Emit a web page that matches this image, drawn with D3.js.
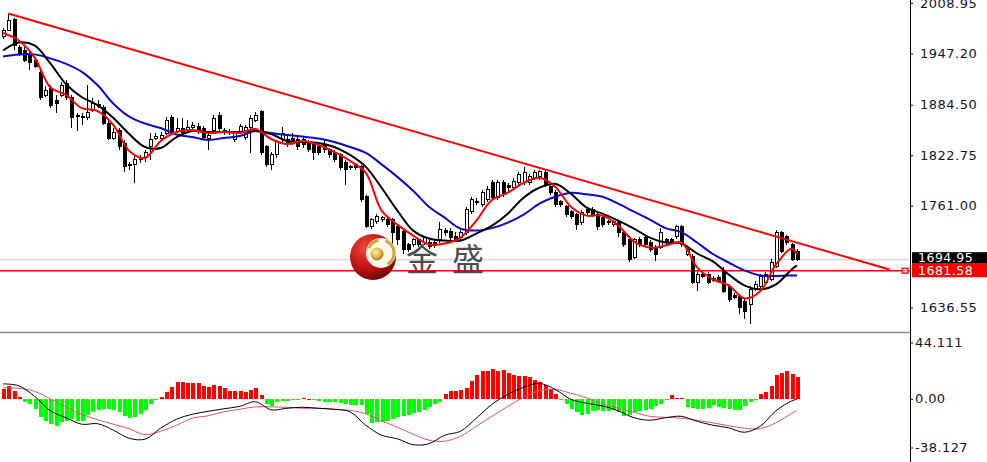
<!DOCTYPE html>
<html><head><meta charset="utf-8">
<script src="https://cdn.jsdelivr.net/npm/d3@7"></script>
<style>html,body{margin:0;padding:0;background:#fff;overflow:hidden}</style>
</head><body>
<svg id="chart" width="987" height="462"></svg>
<script>
// ---- data ----
const candleOpen = [1968.0,1975.3,1988.7,1954.6,1951.0,1944.9,1938.8,1924.2,1896.2,1904.7,
1890.1,1896.2,1910.8,1893.7,1871.8,1870.6,1869.4,1877.9,1885.2,1881.5,
1862.1,1843.8,1853.5,1837.7,1810.9,1810.9,1817.0,1819.5,1832.9,1843.8,
1843.8,1849.9,1869.4,1852.3,1856.0,1853.5,1857.2,1858.4,1856.0,1843.8,
1853.5,1871.8,1853.5,1852.3,1841.4,1851.1,1845.0,1857.2,1865.7,1876.7,
1832.9,1810.9,1823.1,1841.4,1841.4,1843.8,1841.4,1841.4,1837.7,1835.3,
1832.9,1835.3,1829.2,1825.6,1823.1,1813.4,1808.5,1810.9,1808.5,1772.0,
1735.5,1741.6,1744.0,1744.0,1744.0,1735.5,1729.4,1713.6,1713.6,1719.7,
1716.0,1716.0,1716.0,1719.7,1730.6,1729.4,1723.3,1722.1,1728.2,1753.7,
1764.7,1762.3,1768.3,1789.0,1770.8,1789.0,1785.4,1783.0,1789.0,1789.0,
1789.0,1795.1,1796.3,1801.2,1784.2,1776.9,1765.9,1759.8,1753.7,1750.1,
1740.3,1756.2,1756.2,1750.1,1746.4,1741.6,1737.9,1740.3,1728.2,1719.7,
1697.7,1719.7,1722.1,1716.0,1709.9,1709.9,1719.7,1719.7,1723.3,1735.5,
1701.4,1699.0,1667.3,1677.0,1677.0,1672.2,1673.4,1680.7,1662.4,1651.5,
1650.3,1644.2,1640.5,1658.8,1662.4,1667.3,1671.0,1686.8,1728.2,1723.3,
1713.6,1705.0];
const candleHigh = [1978.9,1996.0,1991.1,1957.0,1954.6,1948.5,1941.2,1926.6,1907.1,1908.3,
1896.2,1912.0,1914.4,1896.2,1874.3,1874.3,1908.3,1892.5,1890.1,1884.0,
1865.7,1856.0,1856.0,1841.4,1814.6,1823.1,1823.1,1829.2,1849.9,1849.9,
1851.1,1869.4,1871.8,1868.2,1868.2,1865.7,1863.3,1862.1,1858.4,1851.1,
1871.8,1875.5,1856.0,1854.8,1852.3,1860.9,1859.6,1871.8,1875.5,1877.9,
1835.3,1826.8,1841.4,1857.2,1847.5,1849.9,1846.2,1845.0,1841.4,1839.0,
1836.5,1841.4,1831.6,1829.2,1825.6,1817.0,1810.9,1813.4,1810.9,1774.4,
1746.4,1751.3,1748.9,1746.4,1746.4,1737.9,1731.8,1716.0,1722.1,1722.1,
1724.5,1719.7,1718.4,1741.6,1734.3,1734.3,1729.4,1731.8,1759.8,1772.0,
1770.8,1780.5,1785.4,1792.7,1792.7,1792.7,1789.0,1795.1,1802.4,1808.5,
1800.0,1804.9,1804.9,1804.9,1786.6,1780.5,1768.3,1762.3,1756.2,1752.5,
1756.2,1758.6,1759.8,1753.7,1750.1,1744.0,1744.0,1744.0,1731.8,1722.1,
1722.1,1723.3,1724.5,1719.7,1713.6,1734.3,1722.1,1722.1,1737.9,1737.9,
1711.1,1701.4,1680.7,1679.5,1679.5,1674.6,1675.8,1685.6,1664.9,1653.9,
1652.7,1646.6,1662.4,1668.5,1677.0,1679.5,1695.3,1731.8,1730.6,1725.7,
1716.0,1707.5];
const candleLow = [1965.5,1974.1,1951.0,1943.6,1936.3,1926.6,1929.0,1890.1,1893.7,1880.3,
1874.3,1893.7,1890.1,1856.0,1852.3,1859.6,1865.7,1875.5,1880.3,1859.6,
1841.4,1841.4,1829.2,1802.4,1804.9,1789.0,1813.4,1814.6,1817.0,1841.4,
1841.4,1847.5,1847.5,1849.9,1847.5,1849.9,1853.5,1848.7,1841.4,1829.2,
1851.1,1852.3,1847.5,1847.5,1839.0,1848.7,1841.4,1825.6,1863.3,1823.1,
1808.5,1804.9,1819.5,1837.7,1832.9,1835.3,1829.2,1831.6,1826.8,1817.0,
1823.1,1825.6,1819.5,1814.6,1804.9,1786.6,1804.9,1804.9,1765.9,1734.3,
1733.0,1739.1,1741.6,1735.5,1709.9,1713.6,1701.4,1705.0,1711.1,1711.1,
1713.6,1708.7,1709.9,1716.0,1724.5,1719.7,1717.2,1717.2,1725.7,1751.3,
1762.3,1759.8,1765.9,1768.3,1768.3,1772.0,1778.1,1780.5,1786.6,1786.6,
1786.6,1792.7,1792.7,1784.2,1774.4,1759.8,1759.8,1747.6,1745.2,1731.8,
1737.9,1750.1,1747.6,1731.8,1735.5,1737.9,1735.5,1723.3,1711.1,1691.6,
1695.3,1711.1,1711.1,1705.0,1692.9,1707.5,1713.6,1714.8,1720.9,1711.1,
1699.0,1664.9,1656.4,1672.2,1664.9,1667.3,1666.1,1653.9,1643.0,1646.6,
1628.4,1622.3,1616.2,1656.4,1660.0,1664.9,1668.5,1684.4,1702.6,1713.6,
1692.9,1692.9];
const candleClose = [1975.3,1987.5,1957.0,1947.3,1938.8,1936.3,1931.5,1893.7,1902.2,1884.0,
1886.4,1908.3,1893.7,1869.4,1870.6,1869.4,1875.5,1886.4,1882.8,1862.1,
1843.8,1851.1,1832.9,1808.5,1809.7,1817.0,1819.5,1825.6,1841.4,1846.2,
1847.5,1865.7,1849.9,1856.0,1851.1,1857.2,1859.6,1852.3,1845.0,1847.5,
1868.2,1856.0,1851.1,1851.1,1849.9,1858.4,1857.2,1868.2,1871.8,1825.6,
1810.9,1823.1,1839.0,1849.9,1837.7,1837.7,1832.9,1835.3,1829.2,1825.6,
1825.6,1829.2,1823.1,1817.0,1807.3,1804.9,1807.3,1807.3,1768.3,1735.5,
1744.0,1747.6,1746.4,1737.9,1728.2,1719.7,1707.5,1707.5,1719.7,1713.6,
1722.1,1711.1,1712.3,1731.8,1728.2,1722.1,1719.7,1728.2,1756.2,1768.3,
1765.9,1776.9,1780.5,1770.8,1789.0,1774.4,1783.0,1790.3,1798.8,1801.2,
1796.3,1801.2,1802.4,1786.6,1776.9,1762.3,1762.3,1750.1,1747.6,1737.9,
1752.5,1752.5,1750.1,1735.5,1737.9,1740.3,1741.6,1728.2,1713.6,1695.3,
1719.7,1713.6,1713.6,1707.5,1701.4,1728.2,1716.0,1717.2,1735.5,1713.6,
1707.5,1667.3,1677.0,1674.6,1667.3,1669.7,1668.5,1656.4,1646.6,1649.0,
1636.9,1632.0,1658.8,1664.9,1674.6,1677.0,1691.6,1728.2,1705.0,1716.0,
1695.3,1694.95];

// moving averages, one reading every 3rd bar (last = final bar)
const maFast = [1972.2,1963.1,1942.4,1905.9,1896.2,1880.3,1876.7,1859.6,1828.0,1819.5,
1840.2,1851.1,1853.5,1849.9,1851.1,1849.9,1854.8,1842.6,1836.5,1840.2,
1835.3,1826.8,1815.8,1801.2,1755.0,1737.9,1724.5,1713.6,1714.8,1722.1,
1742.8,1768.3,1776.9,1789.0,1795.1,1784.2,1759.8,1748.9,1748.9,1736.7,
1717.2,1709.9,1712.3,1716.0,1685.6,1671.0,1663.6,1647.8,1656.4,1689.2,
1708.7,1701.4];
const maMid = [1950.9,1960.7,1957.0,1935.1,1909.5,1893.7,1884.0,1868.2,1848.7,1832.9,
1831.6,1845.0,1852.3,1851.1,1851.1,1851.1,1852.3,1848.7,1840.2,1839.0,
1837.7,1832.9,1823.1,1808.5,1783.0,1755.0,1730.6,1720.9,1718.4,1718.4,
1727.0,1736.7,1751.3,1770.8,1783.0,1787.8,1775.6,1758.6,1751.3,1742.8,
1733.0,1722.1,1716.0,1714.8,1702.6,1692.9,1677.0,1663.6,1658.8,1664.9,
1683.1,1688.0];
const maSlow = [1943.6,1946.1,1946.1,1941.2,1934.5,1924.8,1908.3,1885.8,1870.0,1861.5,
1856.0,1848.1,1845.0,1841.4,1843.8,1846.2,1852.3,1849.9,1847.5,1845.6,
1843.2,1839.0,1832.9,1825.6,1811.6,1796.3,1779.3,1759.8,1746.4,1733.0,
1730.6,1733.6,1740.3,1750.1,1763.5,1772.0,1776.9,1775.0,1772.0,1763.5,
1753.7,1744.0,1733.6,1728.8,1716.0,1702.0,1691.6,1681.9,1675.8,1675.2,
1675.8,1675.8];

const macdHist = [7.8,10.4,6.5,1.8,-2.6,-3.9,-7.8,-14,-17,-19.5,
-21,-18,-17,-15.6,-17,-17,-13,-10.4,-9,-7.8,
-7.8,-9,-10,-13.8,-14.8,-14,-11.7,-9,-3.9,-1.3,
1.8,5.7,9,13.5,13,12.2,12.2,12.2,
10.4,9,11,9.9,8.6,6.5,6.5,6.5,5.2,7,
8.6,3.1,-3.9,-5.7,-2.6,-1.8,-1.5,-0.8,-0.5,0.3,
0.2,-1.3,-1.8,-2.1,-2.6,-2.6,-3.1,-4.4,-4.7,-4.7,
-5.2,-12.2,-19,-18,-18,-17,-15.6,-14,-13.8,-13,
-11.2,-10.4,-9,-6.5,-4.4,-2.6,3.4,6.5,6.5,7,
8.6,14.3,19,21.4,22.1,23.4,21.4,22.7,20.3,19,
18.2,18.2,17.4,14.8,13,11.2,7.8,3.9,-1.3,-4.4,
-7.8,-10.4,-13,-11.7,-9.6,-8.6,-9.6,
-9.6,-9.1,-10.4,-13.8,-13,-10.4,-9.6,-9.1,-7.8,-6,
-4.4,-1.3,3.1,0.8,0.5,-6.5,-7.3,-7.8,-7.8,-7,
-5.2,-6.5,-7.3,-7.8,-9.1,-9.1,-6,-2.6,-1,3.4,
5.7,10.4,18.8,20.3,21.4,19.5,16.9];
const macdMain = [11.7,10.2,2.0,-9.4,-14.8,-19.9,-19.5,-24.6,-30.9,-31.6,
-23.0,-16.0,-12.1,-9.8,-7.8,-5.9,-2.3,-8.6,-7.4,-6.6,
-7.4,-8.2,-10.2,-20.7,-28.5,-31.3,-35.9,-35.2,-28.5,-25.4,
-15.2,-4.3,3.5,9.0,12.1,7.4,-0.4,-3.5,-5.5,-9.4,
-14.8,-16.8,-14.8,-13.7,-17.6,-20.7,-22.7,-26.2,-21.5,-9.4,
-1.6,-0.4];
const macdSignal = [8.6,8.2,5.9,0,-6.3,-12.1,-16.4,-19.9,-23.4,-28.1,
-25.4,-20.7,-15.2,-13.3,-10.2,-8.2,-6.3,-6.3,-6.6,-7.4,
-7.4,-8.2,-9.0,-11.7,-17.2,-22.3,-27.7,-32.4,-33.2,-29.3,
-21.5,-13.7,-5.9,1.2,6.3,7.4,4.3,0.8,-3.9,-7.4,
-10.5,-13.7,-14.5,-15.2,-16.8,-18.8,-21.1,-23.0,-23.4,-18.8,
-11.3,-9.0];

const priceTicks = [2008.95, 1947.20, 1884.50, 1822.75, 1761.00, 1636.55];
const macdTicks = [44.111, 0, -38.127];
const macdTickLabels = ["44.111", "0.00", "-38.127"];
const bidPrice = 1694.95;
const levelPrice = 1681.58;
const trendStart = [1, 1996.0];
const trendEnd = [168.6, 1683.0];
const logoText = "金盛";

// ---- layout ----
const svg = d3.select('#chart');
const axisX = 910, mainBottom = 332;
const N = candleClose.length;
const x = d3.scaleLinear().domain([0, N - 1]).range([3, 797]);
const y = d3.scaleLinear().domain([1606.6, 2012.6]).range([mainBottom, 0]);
const ym = d3.scaleLinear().domain([-38.127, 44.111]).range([447.5, 342.5]);
const maX = k => x(Math.min(k * 3, N - 1));

const defs = svg.append('defs');
defs.append('clipPath').attr('id', 'cm').append('rect').attr('x', 0).attr('y', 0).attr('width', axisX).attr('height', mainBottom);
defs.append('clipPath').attr('id', 'cd').append('rect').attr('x', 0).attr('y', 336).attr('width', axisX).attr('height', 126);

svg.append('rect').attr('width', 987).attr('height', 462).attr('fill', '#fff');

const main = svg.append('g').attr('clip-path', 'url(#cm)');

// bid line and level line
main.append('line').attr('x1', 0).attr('x2', axisX).attr('y1', y(bidPrice)).attr('y2', y(bidPrice))
  .attr('stroke', '#c8c8c8').attr('stroke-width', 1.2);
main.append('line').attr('x1', 0).attr('x2', axisX).attr('y1', y(levelPrice)).attr('y2', y(levelPrice))
  .attr('stroke', '#ff0000').attr('stroke-width', 1.5);
main.append('rect').attr('x', 902).attr('y', y(levelPrice) - 2.5).attr('width', 6).attr('height', 5)
  .attr('fill', '#ffb0b0').attr('stroke', '#ff0000').attr('stroke-width', 1.2);

// candles
const idx = d3.range(N);
const cg = main.append('g').attr('shape-rendering', 'crispEdges');
cg.selectAll('line.w').data(idx).join('line')
  .attr('x1', i => Math.round(x(i)) + 0.5).attr('x2', i => Math.round(x(i)) + 0.5)
  .attr('y1', i => y(candleHigh[i])).attr('y2', i => y(candleLow[i]))
  .attr('stroke', '#000').attr('stroke-width', 1);
cg.selectAll('rect.b').data(idx).join('rect')
  .attr('x', i => Math.round(x(i)) - 1)
  .attr('y', i => y(Math.max(candleOpen[i], candleClose[i])))
  .attr('width', 3)
  .attr('height', i => Math.max(1, Math.abs(y(candleOpen[i]) - y(candleClose[i]))))
  .attr('fill', i => candleClose[i] >= candleOpen[i] ? '#fff' : '#000')
  .attr('stroke', '#000').attr('stroke-width', 1);

// moving averages
const maLine = d3.line().x((d, k) => maX(k)).y(d => y(d)).curve(d3.curveCatmullRom.alpha(0.5));
main.append('path').attr('d', maLine(maSlow)).attr('fill', 'none').attr('stroke', '#0a0ac8').attr('stroke-width', 2);
main.append('path').attr('d', maLine(maMid)).attr('fill', 'none').attr('stroke', '#000').attr('stroke-width', 2);
main.append('path').attr('d', maLine(maFast)).attr('fill', 'none').attr('stroke', '#ff0000').attr('stroke-width', 2);

// trend line
main.append('line').attr('x1', x(trendStart[0])).attr('y1', y(trendStart[1]))
  .attr('x2', x(trendEnd[0])).attr('y2', y(trendEnd[1]))
  .attr('stroke', '#ff0000').attr('stroke-width', 2);

// logo
const logo = main.append('g');
const rg = defs.append('radialGradient').attr('id', 'rball').attr('cx', '35%').attr('cy', '30%').attr('r', '75%');
rg.append('stop').attr('offset', '0%').attr('stop-color', '#f04a3a');
rg.append('stop').attr('offset', '55%').attr('stop-color', '#c81414');
rg.append('stop').attr('offset', '100%').attr('stop-color', '#6e0606');
const gg = defs.append('radialGradient').attr('id', 'gball').attr('cx', '40%').attr('cy', '35%').attr('r', '70%');
gg.append('stop').attr('offset', '0%').attr('stop-color', '#fff2a0');
gg.append('stop').attr('offset', '60%').attr('stop-color', '#d7b13c');
gg.append('stop').attr('offset', '100%').attr('stop-color', '#9a7418');
logo.append('circle').attr('cx', 373).attr('cy', 257).attr('r', 23).attr('fill', 'url(#rball)');
logo.append('circle').attr('cx', 381).attr('cy', 253).attr('r', 15).attr('fill', '#fbf6ec');
logo.append('path').attr('d', d3.arc().innerRadius(11.5).outerRadius(14.5).startAngle(0.35).endAngle(2.6)())
  .attr('transform', 'translate(381,253)').attr('fill', '#cfa640');
logo.append('path').attr('d', d3.arc().innerRadius(11.5).outerRadius(14.5).startAngle(-0.2).endAngle(-1.2)())
  .attr('transform', 'translate(381,253)').attr('fill', '#cfa640');
logo.append('circle').attr('cx', 377).attr('cy', 254).attr('r', 6.5).attr('fill', 'url(#gball)');
logo.append('text').attr('x', 406).attr('y', 271).text(logoText)
  .attr('font-family', '"Noto Sans CJK SC", sans-serif').attr('font-size', 32).attr('letter-spacing', 14)
  .attr('fill', '#3a3a3a').attr('fill-opacity', 0.92);

// main pane bottom border
svg.append('line').attr('x1', 0).attr('x2', axisX).attr('y1', 332.5).attr('y2', 332.5)
  .attr('stroke', '#8c8c8c').attr('stroke-width', 1.5);

// MACD pane
const mg = svg.append('g').attr('clip-path', 'url(#cd)');
mg.append('g').attr('shape-rendering', 'crispEdges').selectAll('rect').data(idx).join('rect')
  .attr('x', i => Math.round(x(i)) - 1.5)
  .attr('width', 4)
  .attr('y', i => macdHist[i] >= 0 ? ym(macdHist[i]) : ym(0))
  .attr('height', i => Math.max(1, Math.abs(ym(macdHist[i]) - ym(0))))
  .attr('fill', i => macdHist[i] >= 0 ? '#ff0000' : '#00ff00');
const mLine = d3.line().x((d, k) => maX(k)).y(d => ym(d)).curve(d3.curveCatmullRom.alpha(0.5));
mg.append('path').attr('d', mLine(macdSignal)).attr('fill', 'none').attr('stroke', '#e0506e').attr('stroke-width', 1);
mg.append('path').attr('d', mLine(macdMain)).attr('fill', 'none').attr('stroke', '#000').attr('stroke-width', 1);

// axes
const font = '"DejaVu Sans", Verdana, sans-serif';
const pa = svg.append('g').attr('transform', `translate(${axisX},0)`)
  .call(d3.axisRight(y).tickValues(priceTicks).tickFormat(d3.format('.2f')).tickSize(3).tickSizeOuter(0).tickPadding(7));
pa.select('.domain').remove();
pa.selectAll('text').attr('font-family', font).attr('font-size', 13).attr('letter-spacing', 0.5).attr('fill', '#141428');
pa.selectAll('line').attr('stroke', '#000');

const ma = svg.append('g').attr('transform', `translate(${axisX},0)`)
  .call(d3.axisRight(ym).tickValues(macdTicks).tickFormat((d, i) => macdTickLabels[i]).tickSize(3).tickSizeOuter(0).tickPadding(2));
ma.select('.domain').remove();
ma.selectAll('text').attr('font-family', font).attr('font-size', 13).attr('letter-spacing', 0.4).attr('fill', '#141428');
ma.selectAll('line').attr('stroke', '#000');

svg.append('line').attr('x1', axisX + 0.5).attr('x2', axisX + 0.5).attr('y1', 0).attr('y2', 462)
  .attr('stroke', '#000').attr('stroke-width', 1);

// price tags (stacked boxes, as in the reference)
function tag(price, bg, top, h) {
  svg.append('rect').attr('x', axisX + 2).attr('y', top).attr('width', 987 - axisX - 2).attr('height', h).attr('fill', bg);
  svg.append('text').attr('x', axisX + 8).attr('y', top + h / 2).attr('dy', '0.36em').text(d3.format('.2f')(price))
    .attr('font-family', font).attr('font-size', 12.5).attr('letter-spacing', 0.5).attr('fill', '#fff');
}
const yl = y(levelPrice);
tag(bidPrice, '#000', yl - 18.5, 11.5);
tag(levelPrice, '#ff0000', yl - 7, 13.5);
</script>
</body></html>
